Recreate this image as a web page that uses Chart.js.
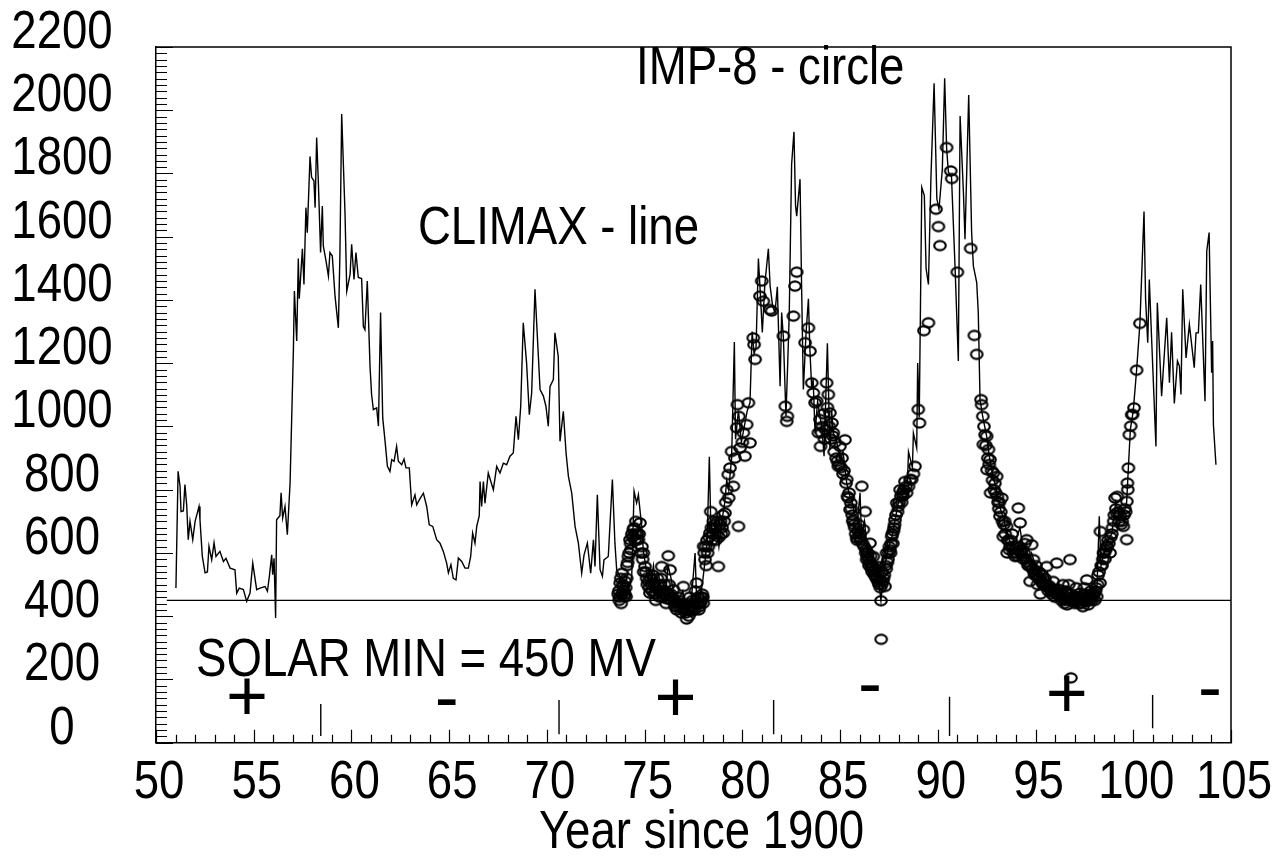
<!DOCTYPE html>
<html><head><meta charset="utf-8">
<script src="https://cdn.jsdelivr.net/npm/chart.js@4.4.1/dist/chart.umd.min.js"></script>
<style>html,body{margin:0;padding:0;background:#fff;}#wrap{width:1287px;height:858px;position:relative;}</style>
</head><body><div id="wrap"><canvas id="c" width="1287" height="858"></canvas></div>
<script>
const FONT = "'Liberation Sans', Arial, sans-serif";
const FONT_SIZE = 53;
const SQUEEZE = 0.86;

const xTickValues = [50,55,60,65,70,75,80,85,90,95,100,105];
const yTickValues = [0,200,400,600,800,1000,1200,1400,1600,1800,2000,2200];
const xTitle = 'Year since 1900';

const climaxYears = [51.02,51.13,51.23,51.28,51.40,51.48,51.57,51.65,51.74,51.88,52.00,52.20,52.25,52.37,52.51,52.63,52.71,52.85,52.97,53.07,53.27,53.45,53.58,53.79,54.04,54.13,54.26,54.47,54.64,54.81,54.95,55.15,55.32,55.58,55.70,55.80,55.92,55.97,56.04,56.12,56.17,56.34,56.40,56.48,56.60,56.72,56.86,57.03,57.08,57.20,57.28,57.33,57.49,57.57,57.67,57.74,57.88,57.96,58.08,58.14,58.22,58.31,58.42,58.51,58.56,58.70,58.82,58.90,59.02,59.16,59.33,59.41,59.50,59.67,59.76,59.93,60.01,60.13,60.23,60.35,60.52,60.61,60.69,60.81,60.95,61.03,61.12,61.29,61.38,61.49,61.60,61.72,61.84,61.97,62.06,62.18,62.31,62.40,62.57,62.69,62.79,62.96,63.08,63.25,63.34,63.47,63.68,63.85,63.98,64.16,64.36,64.53,64.70,64.87,64.96,65.09,65.21,65.35,65.47,65.64,65.81,65.98,66.10,66.20,66.32,66.41,66.54,66.58,66.66,66.75,66.83,67.00,67.26,67.43,67.60,67.77,67.94,68.11,68.28,68.42,68.54,68.66,68.79,68.96,69.10,69.22,69.39,69.51,69.65,69.82,69.95,70.07,70.16,70.33,70.41,70.58,70.67,70.84,70.98,71.10,71.27,71.44,71.61,71.78,71.90,72.07,72.24,72.38,72.46,72.58,72.72,72.84,72.92,73.14,73.35,73.48,73.57,73.74,74.08,74.34,74.46,74.59,74.68,74.85,74.93,75.05,75.15,75.30,75.45,75.60,75.75,75.90,76.05,76.20,76.35,76.50,76.65,76.80,76.95,77.10,77.25,77.40,77.58,77.65,77.80,77.95,78.10,78.20,78.31,78.38,78.50,78.65,78.80,78.95,79.10,79.20,79.30,79.45,79.59,79.65,79.80,79.95,80.10,80.25,80.39,80.50,80.60,80.70,80.82,80.92,81.02,81.15,81.33,81.42,81.55,81.67,81.79,81.93,82.01,82.10,82.23,82.32,82.40,82.52,82.64,82.72,82.78,82.95,83.03,83.12,83.26,83.38,83.45,83.55,83.62,83.72,83.85,83.97,84.08,84.18,84.35,84.48,84.57,84.65,84.80,85.00,85.15,85.34,85.50,85.59,85.75,85.93,86.02,86.10,86.25,86.40,86.55,86.70,86.85,87.00,87.09,87.20,87.35,87.50,87.65,87.80,87.95,88.10,88.30,88.45,88.50,88.58,88.70,88.75,88.92,88.97,89.05,89.18,89.31,89.40,89.52,89.65,89.81,89.95,90.06,90.23,90.35,90.45,90.54,90.70,90.88,91.05,91.14,91.31,91.39,91.58,91.73,91.82,91.99,92.07,92.16,92.30,92.50,92.65,92.80,93.00,93.20,93.40,93.60,93.80,94.00,94.20,94.40,94.60,94.80,95.00,95.20,95.40,95.60,95.80,96.00,96.20,96.40,96.60,96.80,97.00,97.20,97.40,97.60,97.80,98.00,98.15,98.26,98.35,98.50,98.70,98.90,99.10,99.30,99.50,99.66,99.75,99.85,100.00,100.17,100.34,100.55,100.63,100.74,100.82,100.94,101.16,101.23,101.45,101.71,101.85,101.96,102.10,102.26,102.36,102.44,102.53,102.70,102.87,103.12,103.21,103.33,103.45,103.67,103.76,103.88,104.01,104.06,104.10,104.23];
const climaxValues = [489,858,811,731,733,816,752,642,700,642,700,747,705,589,537,540,621,578,632,589,605,573,583,552,547,473,489,484,447,473,568,484,489,494,479,526,594,531,583,394,705,718,790,710,747,658,821,1243,1428,1270,1531,1404,1562,1449,1692,1613,1854,1788,1777,1692,1914,1766,1550,1697,1571,1523,1476,1550,1539,1412,1312,1545,1988,1676,1428,1481,1576,1465,1550,1471,1468,1316,1306,1460,1190,1101,1053,1059,1001,1360,1027,953,874,858,895,890,937,890,879,897,869,869,752,784,752,768,789,747,689,684,642,631,605,568,537,563,520,515,584,573,552,552,589,663,631,684,718,826,747,826,757,853,800,874,853,884,879,906,916,1032,958,1064,1328,1201,1037,1106,1434,1286,1117,1096,1064,1001,1127,1148,1296,1222,953,1048,916,842,789,684,631,536,594,631,536,642,557,784,547,526,578,589,832,631,547,526,462,526,795,758,784,684,610,560,520,500,560,470,520,480,460,560,520,470,430,460,480,420,440,460,600,470,450,500,580,640,904,700,650,700,620,700,760,830,800,900,1267,960,1050,950,1000,1050,1075,1300,1230,1250,1531,1420,1297,1450,1562,1444,1380,1360,1442,1127,1360,1280,1033,1200,1360,1829,1932,1700,1665,1782,1444,1117,1297,1404,1250,1117,1150,979,1080,1033,990,906,1263,926,1050,979,960,895,920,821,780,769,720,726,790,650,700,600,620,560,540,500,449,520,580,620,650,700,750,790,820,830,920,900,870,979,932,1201,1030,1756,1730,1500,1449,1792,2085,1720,1687,1813,2101,1880,1805,1790,1507,1207,1982,1740,1592,2048,1613,1507,1455,1360,1085,1030,969,900,850,800,740,700,650,620,640,680,600,570,600,560,520,510,540,490,480,500,460,450,480,450,460,440,480,450,470,500,716,560,600,640,660,760,720,720,760,869,990,1050,1178,1326,1680,1403,1265,1465,1275,937,1391,1096,1344,1138,1298,1073,1207,1191,1101,1434,1217,1323,1186,1296,1296,1449,1080,1555,1613,1170,1270,1006,879];

const impYears = [73.65,73.70,73.75,73.80,73.85,73.90,73.95,74.00,74.05,74.10,74.17,74.25,74.30,74.35,74.42,74.50,74.55,74.60,74.68,74.76,74.82,74.90,74.95,75.02,75.10,75.19,75.27,75.35,75.42,75.50,75.57,75.65,75.72,75.80,75.87,75.95,76.02,76.10,76.17,76.21,76.30,76.37,76.47,76.55,76.64,76.72,76.80,76.88,76.98,77.05,77.15,77.22,77.30,77.38,77.45,77.52,77.60,77.66,77.73,77.80,77.88,77.95,78.00,78.02,78.09,78.15,78.22,78.30,78.34,78.38,78.45,78.52,78.60,78.68,78.77,78.85,78.92,79.03,79.11,79.20,79.28,79.30,79.37,79.45,79.54,79.62,79.71,79.75,79.80,79.82,79.88,80.00,80.05,80.13,80.22,80.31,80.39,80.56,80.60,80.65,80.90,80.99,81.07,81.41,81.50,82.10,82.20,82.27,82.30,82.61,82.69,82.78,83.21,83.38,83.46,83.55,83.63,83.72,83.89,83.97,84.00,84.10,84.20,84.31,84.40,84.48,84.58,84.65,84.75,84.91,84.99,85.10,85.25,85.34,85.38,85.42,85.51,85.55,85.62,85.68,85.75,85.85,85.95,86.02,86.11,86.19,86.28,86.33,86.36,86.42,86.48,86.53,86.58,86.64,86.70,86.76,86.82,86.90,86.96,87.04,87.09,87.10,87.15,87.22,87.30,87.34,87.38,87.45,87.52,87.58,87.64,87.70,87.76,87.81,87.90,87.98,88.07,88.15,88.22,88.32,88.40,88.50,88.58,88.66,88.75,88.83,89.00,89.06,89.29,89.52,89.91,90.03,90.11,90.45,90.66,90.71,91.00,91.68,91.87,91.99,92.21,92.24,92.30,92.33,92.42,92.50,92.52,92.59,92.67,92.70,92.84,92.92,93.01,93.05,93.12,93.18,93.27,93.35,93.42,93.52,93.55,93.62,93.70,93.80,93.88,93.95,94.02,94.12,94.21,94.30,94.38,94.45,94.55,94.62,94.72,94.80,94.89,94.95,95.02,95.10,95.18,95.25,95.32,95.40,95.48,95.57,95.65,95.74,95.82,95.90,95.98,96.08,96.15,96.25,96.32,96.40,96.48,96.55,96.59,96.62,96.70,96.76,96.81,96.85,96.92,97.00,97.08,97.15,97.22,97.28,97.35,97.42,97.50,97.56,97.62,97.70,97.76,97.82,97.90,97.96,98.03,98.13,98.20,98.30,98.32,98.40,98.48,98.55,98.62,98.70,98.81,98.90,99.00,99.07,99.15,99.18,99.28,99.38,99.49,99.57,99.66,99.67,99.70,99.75,99.80,99.87,99.92,99.97,100.04,100.17,100.34];
const impValues = [470,450,505,440,536,494,462,510,462,560,589,642,610,660,674,640,700,642,642,695,600,580,540,557,520,510,473,500,530,470,450,520,480,500,557,460,500,440,470,591,547,450,484,430,420,460,440,410,494,420,391,440,460,420,450,430,480,505,460,430,460,470,441,621,579,560,600,650,663,731,640,700,680,660,557,690,660,663,726,800,848,774,869,921,811,900,996,1069,684,1032,932,950,980,906,1006,1075,948,1280,1259,1212,1412,1460,1396,1370,1365,1286,1064,1016,1032,1349,1444,1488,1265,1312,1238,1138,1106,1075,980,1022,937,1000,960,1138,1101,1043,1011,980,950,874,937,900,958,832,779,774,737,758,720,705,680,647,690,660,811,674,731,610,579,600,560,631,560,540,589,530,550,520,557,515,449,327,540,520,494,560,600,580,620,600,652,630,680,705,758,747,800,760,780,826,790,810,832,832,850,874,1054,1011,1303,1328,1687,1632,1572,1882,1808,1784,1488,1563,1288,1228,1085,1069,1032,943,974,969,863,927,895,790,853,820,842,779,740,716,774,652,700,684,600,640,620,660,600,589,620,742,695,610,580,630,642,560,510,626,579,530,560,500,540,470,530,500,520,557,480,494,470,510,460,568,484,484,450,500,440,480,473,436,500,579,205,470,450,440,490,460,440,473,450,430,490,470,515,436,460,480,450,473,450,462,530,505,668,560,600,580,620,640,600,660,700,774,726,779,700,690,684,740,642,763,821,869,974,1001,1037,1038,1059,1178,1326];

const impYearsDense = [73.68,73.72,73.78,73.83,73.88,73.93,73.98,74.03,74.08,74.13,74.21,74.28,74.38,74.46,74.52,74.64,74.72,74.86,74.93,75.06,75.14,75.23,75.31,75.38,75.46,75.54,75.61,75.69,75.76,75.84,75.91,75.99,76.06,76.13,76.25,76.34,76.42,76.51,76.60,76.68,76.76,76.84,76.93,77.01,77.10,77.19,77.26,77.34,77.42,77.49,77.56,77.63,77.70,77.77,77.84,77.91,77.98,78.05,78.12,78.19,78.26,78.42,78.49,78.56,78.64,78.72,78.81,78.88,78.96,79.00,79.07,79.15,83.80,84.05,84.15,84.25,84.35,84.45,84.53,84.62,84.70,84.80,84.86,84.95,85.05,85.15,85.20,85.30,85.46,85.58,85.65,85.72,85.80,85.88,85.92,85.98,86.06,86.15,86.23,86.31,86.39,86.45,86.51,86.56,86.61,86.67,86.73,86.79,86.85,86.93,86.99,87.06,87.13,87.18,87.26,87.36,87.42,87.48,87.55,87.61,87.67,87.73,87.79,87.86,87.94,88.02,88.11,88.19,88.27,88.36,92.36,92.46,92.56,92.63,92.75,92.80,92.88,92.96,93.08,93.15,93.22,93.31,93.38,93.45,93.58,93.66,93.75,93.84,93.92,93.99,94.06,94.16,94.25,94.34,94.42,94.50,94.58,94.66,94.76,94.84,94.92,94.99,95.06,95.14,95.22,95.29,95.36,95.44,95.52,95.61,95.69,95.78,95.86,95.94,96.02,96.11,96.20,96.28,96.36,96.44,96.52,96.66,96.73,96.89,96.96,97.04,97.11,97.18,97.25,97.31,97.38,97.46,97.53,97.59,97.66,97.73,97.79,97.86,97.93,98.00,98.07,98.10,98.17,98.25,98.36,98.44,98.52,98.59,98.66,98.75,98.85,98.94,99.03,99.11,99.23,99.33,99.43,99.53,99.61,99.72];
const impValuesDense = [480,460,520,470,500,480,470,490,520,570,600,630,650,680,660,660,660,620,600,540,500,490,520,480,505,490,470,500,460,520,480,470,480,455,500,470,460,450,440,430,450,425,440,430,410,420,400,430,415,440,420,450,440,420,440,450,460,600,620,640,620,680,660,690,640,700,650,700,680,720,700,760,1080,980,1040,990,1060,1000,960,970,920,900,890,880,870,850,860,820,790,740,700,690,660,640,670,650,640,630,620,600,590,580,570,590,550,560,545,530,520,510,500,490,500,510,530,550,570,600,610,630,660,670,690,720,730,760,780,790,800,810,1000,940,900,880,860,830,800,790,760,760,730,700,690,660,640,610,640,620,610,600,590,620,600,590,600,580,570,560,560,550,540,545,530,520,520,510,505,500,495,500,490,485,480,475,480,470,465,460,470,455,450,460,450,455,460,445,450,455,450,440,460,450,455,445,460,450,465,455,465,470,480,490,500,540,560,580,600,610,620,630,650,680,720,740,730,720,700,720,730,800];

const solarMinLevel = 450;
const solarMinSpan = [50.55, 105];

const reversalYears = [58.43, 70.62, 81.6, 90.6, 100.99];
const reversalTop = [122, 135, 135, 145, 151];
const reversalBottom = [21, 27, 27, 21, 46];

const polarityYears = [54.66, 64.88, 76.58, 86.53, 96.6, 103.93];
const polaritySigns = ['+', '-', '+', '-', '+', '-'];
const polarityLevels = [135, 130, 130, 176, 145, 164];

const noteTexts = ['IMP-8 - circle', 'CLIMAX - line', 'SOLAR MIN = 450 MV'];
const noteYears = [74.56, 63.4, 52.05];
const noteLevels = [2083, 1576, 212];

const ellipse = (() => {
  const c = document.createElement('canvas'); c.width = 16; c.height = 14;
  const g = c.getContext('2d'); g.strokeStyle = '#000'; g.lineWidth = 2.1;
  g.beginPath(); g.ellipse(8, 7, 5.8, 4.6, 0, 0, 2 * Math.PI); g.stroke();
  return c;
})();

const impPoints = impYears.map((x, i) => ({x, y: impValues[i]}))
  .concat(impYearsDense.map((x, i) => ({x, y: impValuesDense[i]})));

const datasets = [
  { type: 'line', label: 'CLIMAX', data: climaxYears.map((x, i) => ({x, y: climaxValues[i]})),
    borderColor: '#000', borderWidth: 1.4, pointRadius: 0, tension: 0, fill: false },
  { type: 'scatter', label: 'IMP-8', data: impPoints,
    pointStyle: ellipse, pointRadius: 6, borderColor: '#000', backgroundColor: 'rgba(0,0,0,0)' },
  { type: 'line', label: 'solarmin', data: solarMinSpan.map(x => ({x, y: solarMinLevel})),
    borderColor: '#000', borderWidth: 1.4, pointRadius: 0 }
];
reversalYears.forEach((yr, i) => datasets.push({
  type: 'line', label: 'rev' + i, data: [{x: yr, y: reversalBottom[i]}, {x: yr, y: reversalTop[i]}],
  borderColor: '#000', borderWidth: 1.4, pointRadius: 0
}));

function squeezedText(ctx, text, x, y, align) {
  ctx.save();
  ctx.translate(x, y);
  ctx.scale(SQUEEZE, 1);
  ctx.textAlign = align;
  ctx.fillText(text, 0, 0);
  ctx.restore();
}

const framePlugin = {
  id: 'frame',
  afterDatasetsDraw(chart) {
    const {ctx, chartArea: a, scales: {x, y}} = chart;
    ctx.save();
    ctx.strokeStyle = '#000';
    ctx.lineWidth = 1.5;
    ctx.beginPath();
    ctx.moveTo(a.left, a.top); ctx.lineTo(a.right, a.top); ctx.lineTo(a.right, a.bottom);
    ctx.stroke();
    ctx.lineWidth = 1.2;
    ctx.beginPath();
    for (let v = 0; v <= 2200; v += 20) {
      const p = Math.round(y.getPixelForValue(v)) + 0.5;
      const len = (v % 200 === 0) ? 17 : 11;
      ctx.moveTo(a.left, p); ctx.lineTo(a.left + len, p);
    }
    for (let v = 50; v <= 105; v += 1) {
      const p = Math.round(x.getPixelForValue(v)) + 0.5;
      const len = (v % 5 === 0) ? 13 : 8;
      ctx.moveTo(p, a.bottom); ctx.lineTo(p, a.bottom - len);
    }
    ctx.stroke();

    ctx.fillStyle = '#000';
    ctx.font = FONT_SIZE + 'px ' + FONT;
    ctx.textBaseline = 'alphabetic';
    yTickValues.forEach(v => squeezedText(ctx, String(v), 62, y.getPixelForValue(v) + 1, 'center'));
    xTickValues.forEach(v => squeezedText(ctx, String(v), x.getPixelForValue(v) + 3, a.bottom + 55, 'center'));
    squeezedText(ctx, xTitle, (a.left + a.right) / 2 + 8, a.bottom + 105, 'center');
    noteTexts.forEach((t, i) => squeezedText(ctx, t, x.getPixelForValue(noteYears[i]), y.getPixelForValue(noteLevels[i]), 'left'));
    ctx.font = '72px ' + FONT;
    ctx.textBaseline = 'middle';
    ctx.textAlign = 'center';
    polaritySigns.forEach((s, i) => ctx.fillText(s, x.getPixelForValue(polarityYears[i]), y.getPixelForValue(polarityLevels[i])));
    ctx.restore();
  }
};

new Chart(document.getElementById('c'), {
  type: 'scatter',
  data: { datasets },
  options: {
    responsive: false, animation: false, devicePixelRatio: 1,
    layout: { padding: { left: 0, top: 47, right: 56, bottom: 0 } },
    plugins: { legend: { display: false }, tooltip: { enabled: false } },
    scales: {
      x: {
        type: 'linear', position: 'bottom', min: 50, max: 105,
        afterBuildTicks: s => { s.ticks = xTickValues.map(v => ({value: v})); },
        afterFit: s => { s.height = 115.3; },
        ticks: { display: false },
        grid: { display: false, drawTicks: false },
        border: { display: true, color: '#000', width: 1.5 }
      },
      y: {
        type: 'linear', position: 'left', min: 0, max: 2200,
        afterBuildTicks: s => { s.ticks = yTickValues.map(v => ({value: v})); },
        afterFit: s => { s.width = 156; },
        ticks: { display: false },
        grid: { display: false, drawTicks: false },
        border: { display: true, color: '#000', width: 1.5 }
      }
    }
  },
  plugins: [framePlugin]
});
</script></body></html>
